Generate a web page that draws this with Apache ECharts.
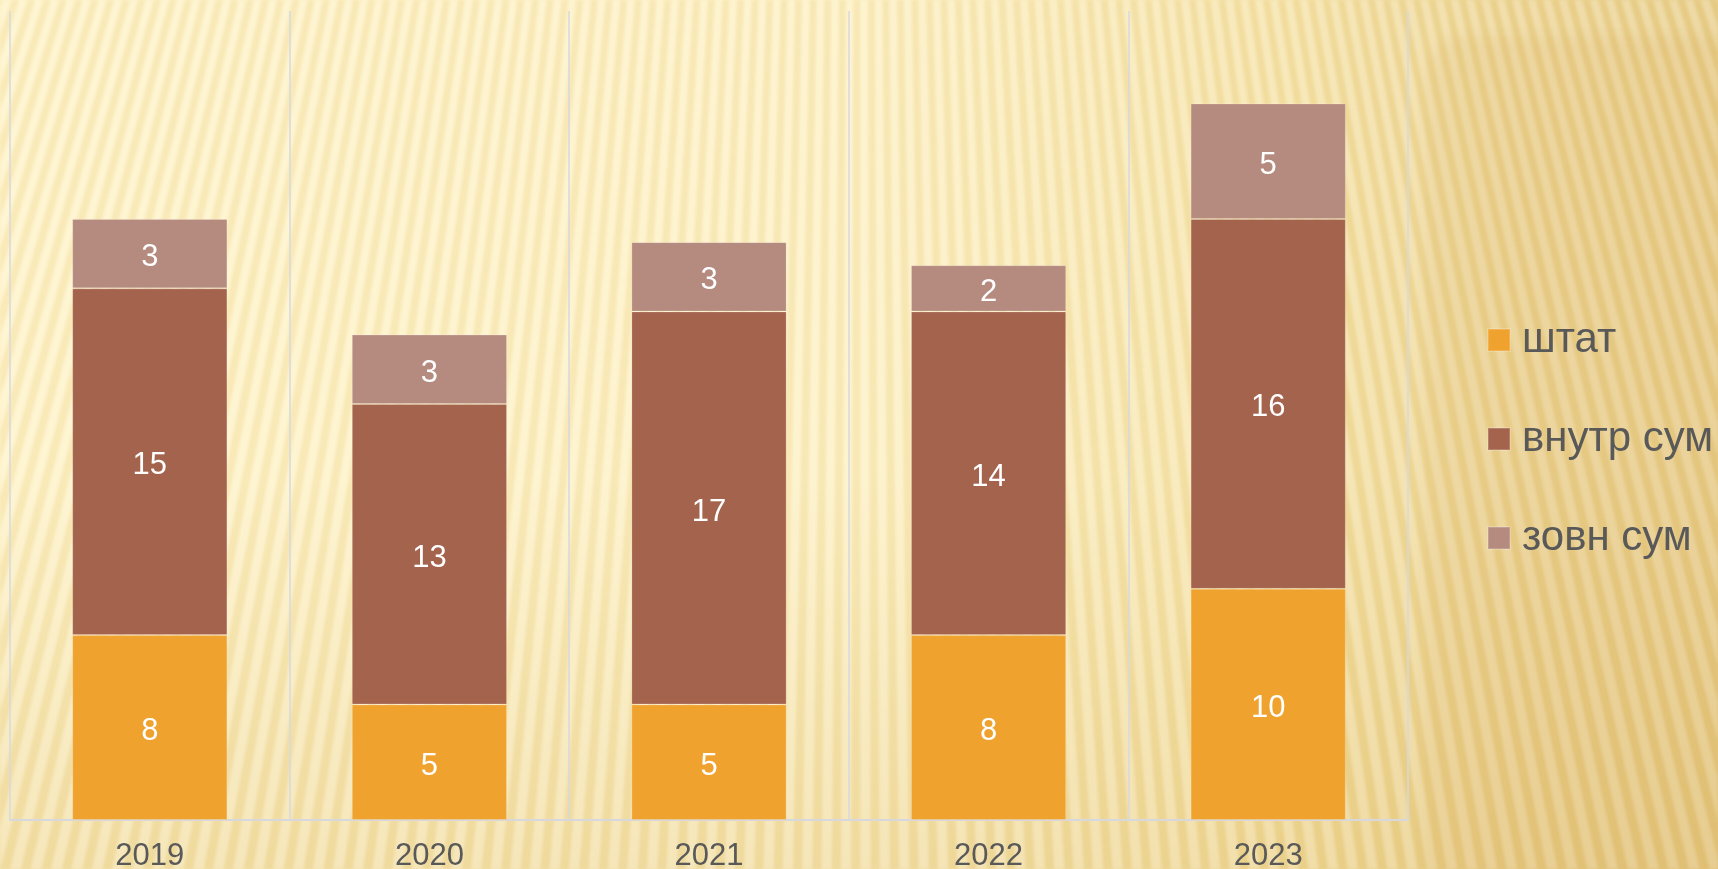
<!DOCTYPE html>
<html>
<head>
<meta charset="utf-8">
<script src="https://cdn.jsdelivr.net/npm/echarts@6/dist/echarts.min.js"></script>
<style>
html,body{margin:0;padding:0;width:1718px;height:869px;overflow:hidden;}
#bg{position:absolute;left:0;top:0;width:1718px;height:869px;
background:
 linear-gradient(to bottom, rgba(255,255,255,0) 55%, rgba(215,175,85,0.26) 100%),
 linear-gradient(to right, #FEF2C6 0%, #FDF0C2 50%, #F6E3A8 75%, #EDD594 88%, #E9CF8C 100%);}
#stripes{position:absolute;left:0;top:0;width:1718px;height:869px;
background: repeating-conic-gradient(from 160deg at 860px -2600px,
  rgba(255,255,255,0.22) 0deg 0.15deg, rgba(200,160,60,0.10) 0.17deg 0.30deg, rgba(255,255,255,0.22) 0.32deg);
filter:blur(1.5px);}
#shade{position:absolute;left:1425px;top:36px;width:320px;height:860px;border-radius:40px;
background:rgba(212,168,80,0.12);filter:blur(6px);}
#chart{position:absolute;left:0;top:0;width:1718px;height:869px;}
</style>
</head>
<body>
<div id="bg"></div>
<div id="stripes"></div>
<div id="shade"></div>
<div id="chart"></div>
<script>
const categories = ['2019', '2020', '2021', '2022', '2023'];
const shtat = [8, 5, 5, 8, 10];
const vnutrSum = [15, 13, 17, 14, 16];
const zovnSum = [3, 3, 3, 2, 5];
const seriesNames = ['штат', 'внутр сум', 'зовн сум'];
const colors = ['#F0A22F', '#A4634D', '#B58A7F'];

const font = '"Liberation Sans", Arial, sans-serif';
const chart = echarts.init(document.getElementById('chart'), null, {renderer: 'canvas'});

function mk(name, data, color) {
  return {
    name: name,
    type: 'bar',
    stack: 'total',
    barWidth: '55.5%',
    data: data,
    itemStyle: {color: color, borderColor: 'rgba(255,255,255,0.18)', borderWidth: 1},
    label: {show: true, position: 'inside', offset: [0, 4], color: '#ffffff', fontSize: 31, fontFamily: font},
    emphasis: {disabled: true}
  };
}

chart.setOption({
  backgroundColor: 'transparent',
  animation: false,
  grid: {left: 10, right: 310, top: 11, bottom: 49, containLabel: false, outerBoundsMode: 'none'},
  legend: {
    orient: 'vertical',
    left: 1482,
    top: 314,
    itemWidth: 22,
    itemHeight: 22,
    itemGap: 57,
    icon: 'rect',
    data: seriesNames,
    textStyle: {color: '#595959', fontSize: 42, fontFamily: font, padding: [0, 0, 0, 7]}
  },
  xAxis: {
    type: 'category',
    data: categories,
    axisLine: {show: true, lineStyle: {color: '#D6D8DE', width: 2}},
    axisTick: {show: false},
    splitLine: {show: true, interval: 0, lineStyle: {color: '#D6D8DE', width: 1.5}},
    axisLabel: {color: '#595959', fontSize: 31, fontFamily: font, margin: 21}
  },
  yAxis: {
    type: 'value',
    min: 0,
    max: 35,
    show: false,
    splitLine: {show: false}
  },
  series: [
    mk(seriesNames[0], shtat, colors[0]),
    mk(seriesNames[1], vnutrSum, colors[1]),
    mk(seriesNames[2], zovnSum, colors[2])
  ]
});
</script>
</body>
</html>
